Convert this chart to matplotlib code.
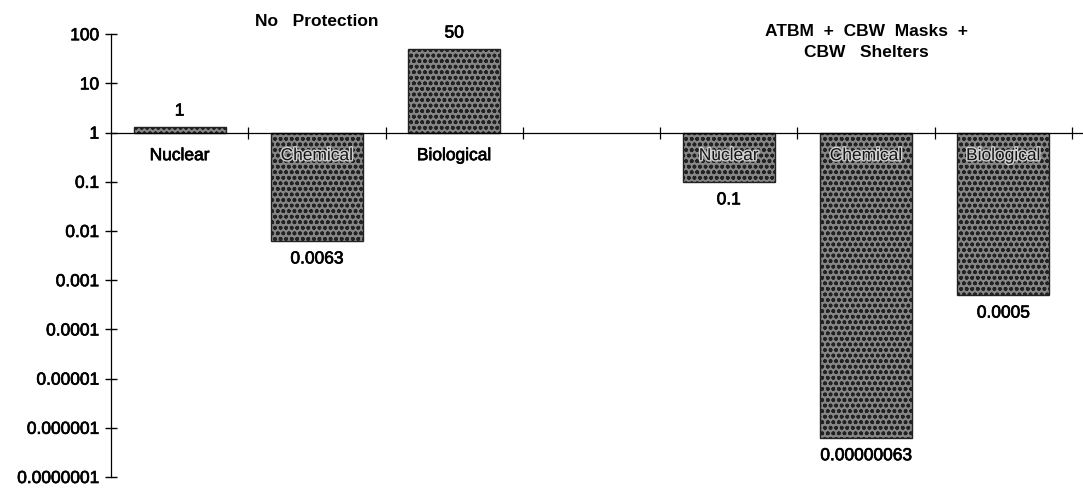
import matplotlib
matplotlib.use('Agg')
import matplotlib.pyplot as plt
import matplotlib.patheffects as pe
import numpy as np

# Data (log scale, bars grow from 1)
categories = ['Nuclear', 'Chemical', 'Biological', '', 'Nuclear', 'Chemical', 'Biological']
values = [1.3, 0.0063, 50, None, 0.1, 0.00000063, 0.0005]
value_labels = ['1', '0.0063', '50', '', '0.1', '0.00000063', '0.0005']
group_titles = ['No   Protection', 'ATBM  +  CBW  Masks  +\nCBW   Shelters']
group_title_pos = [1, 5]
yticks = [100, 10, 1, 0.1, 0.01, 0.001, 0.0001, 0.00001, 0.000001, 0.0000001]
ytick_labels = ['100', '10', '1', '0.1', '0.01', '0.001', '0.0001', '0.00001',
                '0.000001', '0.0000001']

plt.rcParams['font.family'] = ['Liberation Sans', 'DejaVu Sans']
plt.rcParams['hatch.color'] = '#f4f4f4'
plt.rcParams['hatch.linewidth'] = 1.1

thick = [pe.withStroke(linewidth=0.5, foreground='black')]
fs = 12.5

fig = plt.figure(figsize=(10.83, 4.89), dpi=100)
ax = fig.add_axes([0.1025, 0.0225, 0.8975, 0.9055])

x = np.arange(len(categories))
for i, v in enumerate(values):
    if v is None:
        continue
    ax.bar(x[i], v - 1, bottom=1, width=0.67, color='#868686',
           edgecolor='#222222', linewidth=1.0, hatch='ooo')

ax.set_yscale('log')
ax.set_ylim(1e-7, 100)
ax.set_xlim(-0.5, 6.58)

# value labels and category names
for i, v in enumerate(values):
    if v is None:
        continue
    if v >= 1:
        ax.annotate(value_labels[i], (x[i], v), xytext=(0, 11.5), textcoords='offset points',
                    ha='center', va='center', fontsize=fs, path_effects=thick)
        ax.text(x[i], 0.34, categories[i], ha='center', va='center', fontsize=fs,
                path_effects=thick)
    else:
        ax.annotate(value_labels[i], (x[i], v), xytext=(0, -13), textcoords='offset points',
                    ha='center', va='center', fontsize=fs, path_effects=thick)
        ax.text(x[i], 0.34, categories[i], ha='center', va='center', fontsize=fs,
                color='#151515',
                path_effects=[pe.withStroke(linewidth=2.0, foreground='#d0d0d0')])

title_y = [1.032, 0.985]
for t, p, ty in zip(group_titles, group_title_pos, title_y):
    ax.text(x[p], ty, t, transform=ax.get_xaxis_transform(),
            ha='center', va='center', fontsize=fs, fontweight='bold', linespacing=1.45,
            clip_on=False)

ax.set_yticks(yticks)
ax.set_yticklabels(ytick_labels, fontsize=fs)
for lbl in ax.get_yticklabels():
    lbl.set_path_effects(thick)
ax.yaxis.set_minor_locator(matplotlib.ticker.NullLocator())
ax.tick_params(axis='y', direction='inout', length=9, width=1, pad=4)

ax.spines['bottom'].set_position(('data', 1))
ax.spines['top'].set_visible(False)
ax.spines['right'].set_visible(False)
ax.spines['left'].set_linewidth(0.9)
ax.spines['bottom'].set_linewidth(0.9)
ax.set_xticks(np.arange(0.5, 6.6, 1))
ax.tick_params(axis='x', direction='inout', length=8, width=0.9, labelbottom=False)
ax.set_facecolor('none')

fig.savefig('out.png', dpi=100)
